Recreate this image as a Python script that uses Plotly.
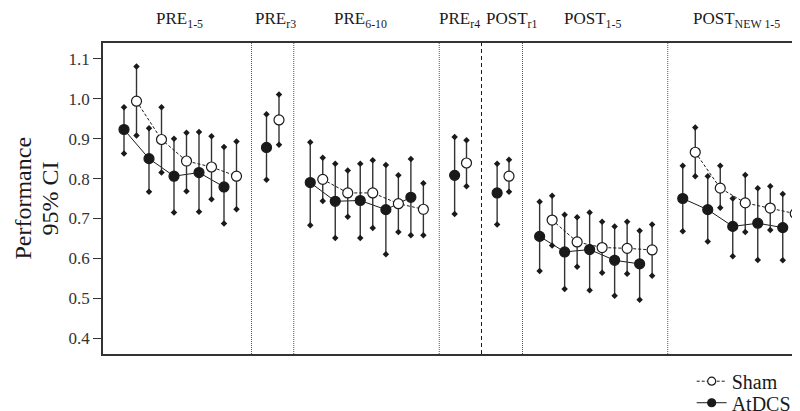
import plotly.graph_objects as go

# ---------------- data ----------------
group_labels = ["PRE<sub>1-5</sub>", "PRE<sub>r3</sub>", "PRE<sub>6-10</sub>",
                "PRE<sub>r4</sub>", "POST<sub>r1</sub>", "POST<sub>1-5</sub>",
                "POST<sub>NEW 1-5</sub>"]
group_label_x = [4.45, 12.1, 18.9, 26.8, 31.0, 37.5, 49.0]
separators_x = [10.2, 13.58, 25.22, 28.6, 31.88, 43.5]
separators_dash = ["dot", "dot", "dot", "dash", "dot", "dot"]

point_group = [0, 0, 0, 0, 0, 1, 2, 2, 2, 2, 2, 3, 4, 5, 5, 5, 5, 5, 6, 6, 6, 6, 6]

atdcs_x = [0, 2, 4, 6, 8, 11.4, 14.9, 16.9, 18.9, 20.95, 22.95, 26.45, 29.85,
           33.25, 35.25, 37.25, 39.25, 41.25, 44.7, 46.7, 48.7, 50.7, 52.7]
atdcs_mean = [0.923, 0.850, 0.806, 0.815, 0.779, 0.878, 0.790, 0.743, 0.745, 0.722, 0.753,
              0.808, 0.764, 0.655, 0.616, 0.622, 0.595, 0.586, 0.750, 0.722, 0.680, 0.688, 0.677]
atdcs_hi = [0.979, 0.926, 0.900, 0.917, 0.879, 0.961, 0.891, 0.837, 0.837, 0.834, 0.849,
            0.904, 0.837, 0.742, 0.709, 0.715, 0.680, 0.669, 0.832, 0.806, 0.750, 0.776, 0.761]
atdcs_lo = [0.863, 0.767, 0.715, 0.717, 0.687, 0.797, 0.683, 0.651, 0.651, 0.610, 0.658,
            0.711, 0.685, 0.568, 0.523, 0.520, 0.506, 0.496, 0.668, 0.642, 0.605, 0.596, 0.595]

sham_x = [1, 3, 5, 7, 9, 12.4, 15.9, 17.9, 19.9, 21.95, 23.95, 27.4, 30.8,
          34.25, 36.25, 38.25, 40.25, 42.25, 45.7, 47.7, 49.7, 51.7, 53.7]
sham_mean = [0.994, 0.898, 0.844, 0.829, 0.806, 0.947, 0.798, 0.764, 0.764, 0.737, 0.723,
             0.839, 0.806, 0.696, 0.641, 0.627, 0.625, 0.621, 0.866, 0.776, 0.739, 0.726, 0.712]
sham_hi = [1.081, 0.979, 0.915, 0.906, 0.893, 1.011, 0.852, 0.820, 0.846, 0.808, 0.788,
           0.896, 0.847, 0.757, 0.703, 0.692, 0.692, 0.685, 0.928, 0.832, 0.809, 0.781, 0.773]
sham_lo = [0.908, 0.815, 0.768, 0.748, 0.723, 0.885, 0.744, 0.704, 0.676, 0.666, 0.658,
           0.781, 0.767, 0.632, 0.579, 0.564, 0.561, 0.556, 0.806, 0.727, 0.666, 0.671, 0.651]

y_ticks = [0.4, 0.5, 0.6, 0.7, 0.8, 0.9, 1.0, 1.1]
y_tick_text = ["0.4", "0.5", "0.6", "0.7", "0.8", "0.9", "1.0", "1.1"]

FONT = "Liberation Serif"
INK = "#1a1a1a"


def with_gaps(xs, ys, groups):
    ox, oy = [], []
    for i, (x, y, g) in enumerate(zip(xs, ys, groups)):
        if i > 0 and g != groups[i - 1]:
            ox.append(None)
            oy.append(None)
        ox.append(x)
        oy.append(y)
    return ox, oy


fig = go.Figure()


def add_series(name, xs, mean, hi, lo, dash, fill, size, legend_id):
    lx, ly = with_gaps(xs, mean, point_group)
    # connecting lines (within groups)
    fig.add_trace(go.Scatter(x=lx, y=ly, mode="lines", showlegend=False,
                             line=dict(color=INK, width=1, dash=dash), hoverinfo="skip"))
    # error bars
    fig.add_trace(go.Scatter(
        x=xs, y=mean, mode="markers", showlegend=False,
        marker=dict(size=1, color="rgba(0,0,0,0)"),
        error_y=dict(type="data", symmetric=False,
                     array=[h - m for h, m in zip(hi, mean)],
                     arrayminus=[m - l for m, l in zip(mean, lo)],
                     color="#333333", thickness=1.4, width=0)))
    # diamond ends of the CI
    fig.add_trace(go.Scatter(
        x=list(xs) + list(xs), y=list(hi) + list(lo), mode="markers", showlegend=False,
        marker=dict(symbol="diamond", size=5, color=INK), hoverinfo="skip"))
    # points
    fig.add_trace(go.Scatter(
        x=xs, y=mean, mode="markers", showlegend=False,
        marker=dict(size=size, color=fill, line=dict(color=INK, width=1.2))))
    # legend entry
    fig.add_trace(go.Scatter(
        x=[None], y=[None], mode="lines+markers", name=name, legend=legend_id,
        line=dict(color=INK, width=1, dash=dash),
        marker=dict(size=size - 2, color=fill, line=dict(color=INK, width=1.2))))


add_series("AtDCS", atdcs_x, atdcs_mean, atdcs_hi, atdcs_lo, "solid", INK, 10, "legend2")
add_series("Sham", sham_x, sham_mean, sham_hi, sham_lo, "3px,2px", "white", 10, "legend")

shapes = []
for sx, sd in zip(separators_x, separators_dash):
    shapes.append(dict(type="line", xref="x", yref="paper", x0=sx, x1=sx, y0=0, y1=1,
                       line=dict(color="#555555" if sd == "dot" else INK, width=1,
                                 dash="1px,1px" if sd == "dot" else "4px,3px"),
                       layer="below"))

annotations = []
for lab, lx in zip(group_labels, group_label_x):
    annotations.append(dict(text=lab, x=lx, y=1.075, xref="x", yref="paper",
                            showarrow=False, xanchor="center", yanchor="middle",
                            font=dict(family=FONT, size=17, color=INK)))
annotations.append(dict(text="Performance", x=-0.1148, y=0.50, xref="paper", yref="paper",
                        textangle=-90, showarrow=False, xanchor="center", yanchor="middle",
                        font=dict(family=FONT, size=24, color=INK)))
annotations.append(dict(text="95% CI", x=-0.0752, y=0.50, xref="paper", yref="paper",
                        textangle=-90, showarrow=False, xanchor="center", yanchor="middle",
                        font=dict(family=FONT, size=24, color=INK)))

legend_style = dict(xanchor="left", yanchor="top",
                    font=dict(family=FONT, size=20, color=INK),
                    bgcolor="rgba(0,0,0,0)", itemwidth=30)

fig.update_layout(
    width=800, height=411,
    margin=dict(l=95, r=0, t=35, b=65, autoexpand=False),
    paper_bgcolor="white", plot_bgcolor="white",
    font=dict(family=FONT, color=INK),
    showlegend=True,
    legend=dict(x=0.835, y=-0.0248, **legend_style),
    legend2=dict(x=0.835, y=-0.094, **legend_style),
    shapes=shapes,
    annotations=annotations,
    xaxis=dict(range=[-1.68, 54.72], showgrid=False, zeroline=False,
               showticklabels=False, ticks="", showline=True, mirror=True,
               linecolor="#333333", linewidth=1.5),
    yaxis=dict(range=[0.36, 1.14], showgrid=False, zeroline=False,
               tickvals=y_ticks, ticktext=y_tick_text, ticks="outside", ticklen=8,
               tickwidth=1, tickcolor="#333333", showline=True, mirror=False,
               linecolor="#333333", linewidth=1.5,
               tickfont=dict(family=FONT, size=17, color="#333333")),
)

fig.write_html("out.html")
